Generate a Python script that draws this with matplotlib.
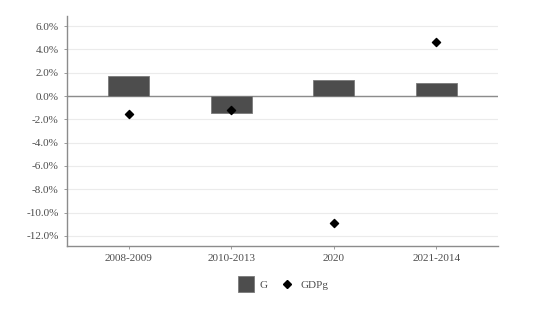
import matplotlib
matplotlib.use("Agg")
import matplotlib.pyplot as plt
from matplotlib.lines import Line2D
from matplotlib.ticker import FuncFormatter

categories = ["2008-2009", "2010-2013", "2020", "2021-2014"]
G = [1.72, -1.43, 1.34, 1.14]
GDPg = [-1.52, -1.20, -10.9, 4.65]
yticks = [6, 4, 2, 0, -2, -4, -6, -8, -10, -12]

plt.rcParams['font.family'] = ['Liberation Serif', 'DejaVu Serif']
fig = plt.figure(figsize=(5.49, 3.09), dpi=100)
ax = fig.add_axes([67/549, 1 - 246/309, (498-67)/549, (246-16)/309])

x = list(range(len(categories)))
ax.bar(x, G, width=0.4, color='#4d4d4d', edgecolor='#7a7a7a', linewidth=0.6, zorder=3)
ax.axhline(0, color='#8c8c8c', lw=1.0, zorder=2)
ax.scatter(x, GDPg, marker='D', s=17, color='black', zorder=4)

ax.set_xlim(-0.6, 3.6)
ax.set_ylim(-12.86, 6.86)
ax.set_xticks(x)
ax.set_xticklabels(categories)
ax.set_yticks(yticks)
ax.yaxis.set_major_formatter(FuncFormatter(lambda v, p: f"{v:.1f}%"))
ax.grid(axis='y', color='#ebebeb', lw=0.8, zorder=0)
for s in ['top', 'right']:
    ax.spines[s].set_visible(False)
for s in ['left', 'bottom']:
    ax.spines[s].set_color('#8c8c8c')
    ax.spines[s].set_linewidth(1.0)
ax.tick_params(axis='both', colors='#8c8c8c', labelcolor='#4d4d4d', labelsize=8, length=2.5, width=0.6)

handles = [Line2D([], [], marker='s', markerfacecolor='#4d4d4d', markeredgecolor='#7a7a7a',
                  markeredgewidth=0.6, ls='none', markersize=11.5, label='G'),
           Line2D([], [], marker='D', color='black', ls='none', markersize=4.2, label='GDPg')]
fig.legend(handles=handles, loc='center', bbox_to_anchor=(283/549, 1 - 285/309), ncol=2,
           frameon=False, fontsize=8, handlelength=1.5,
           columnspacing=1.0, handletextpad=0.5, labelcolor='#4d4d4d')

fig.savefig("out.png", dpi=100)
